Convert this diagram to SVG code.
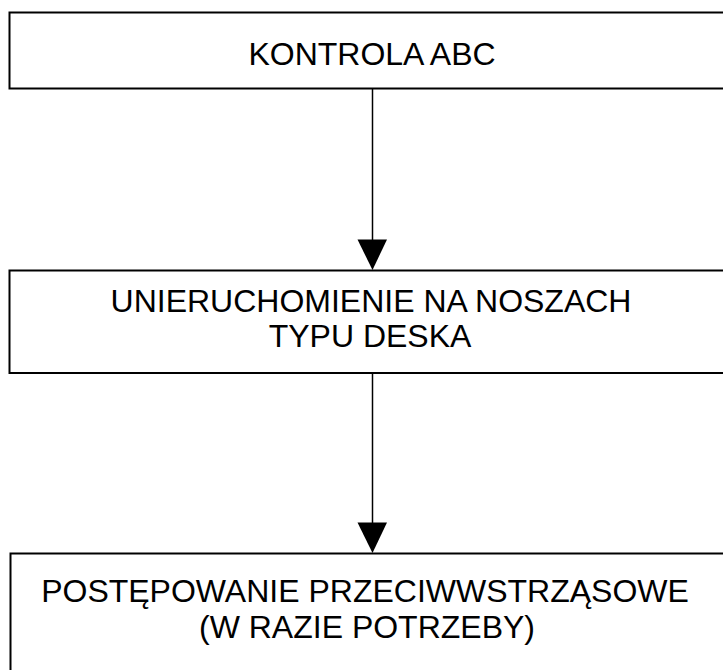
<svg xmlns="http://www.w3.org/2000/svg" width="723" height="670" viewBox="0 0 723 670">
<style>
.box{fill:#fff;stroke:#000;stroke-width:2}
.lbl{font-family:"Liberation Sans",Arial,sans-serif;font-size:32px;fill:#000;text-anchor:middle}
.conn{stroke:#000;stroke-width:1.5;fill:none}
.head{fill:#000;stroke:none}
</style>
<rect width="723" height="670" fill="#fff"/>
<g id="node-kontrola">
<rect class="box" x="9.5" y="12.5" width="730" height="76"/>
<text class="lbl" x="372" y="64.5">KONTROLA ABC</text>
</g>
<g id="node-unieruchomienie">
<rect class="box" x="9.5" y="270.5" width="730" height="102.5"/>
<text class="lbl" x="371" y="312">UNIERUCHOMIENIE NA NOSZACH</text>
<text class="lbl" x="370" y="347">TYPU DESKA</text>
</g>
<g id="node-postepowanie">
<rect class="box" x="10.5" y="553.5" width="730" height="130"/>
<text class="lbl" x="365" y="602">POSTĘPOWANIE PRZECIWWSTRZĄSOWE</text>
<text class="lbl" x="367" y="638">(W RAZIE POTRZEBY)</text>
</g>
<g id="connectors">
<line class="conn" x1="372.5" y1="89" x2="372.5" y2="241"/>
<polygon class="head" points="357.5,239.5 387,239.5 372.5,270"/>
<line class="conn" x1="372.5" y1="373" x2="372.5" y2="524"/>
<polygon class="head" points="357.5,522.5 387,522.5 372.5,553"/>
</g>
</svg>
